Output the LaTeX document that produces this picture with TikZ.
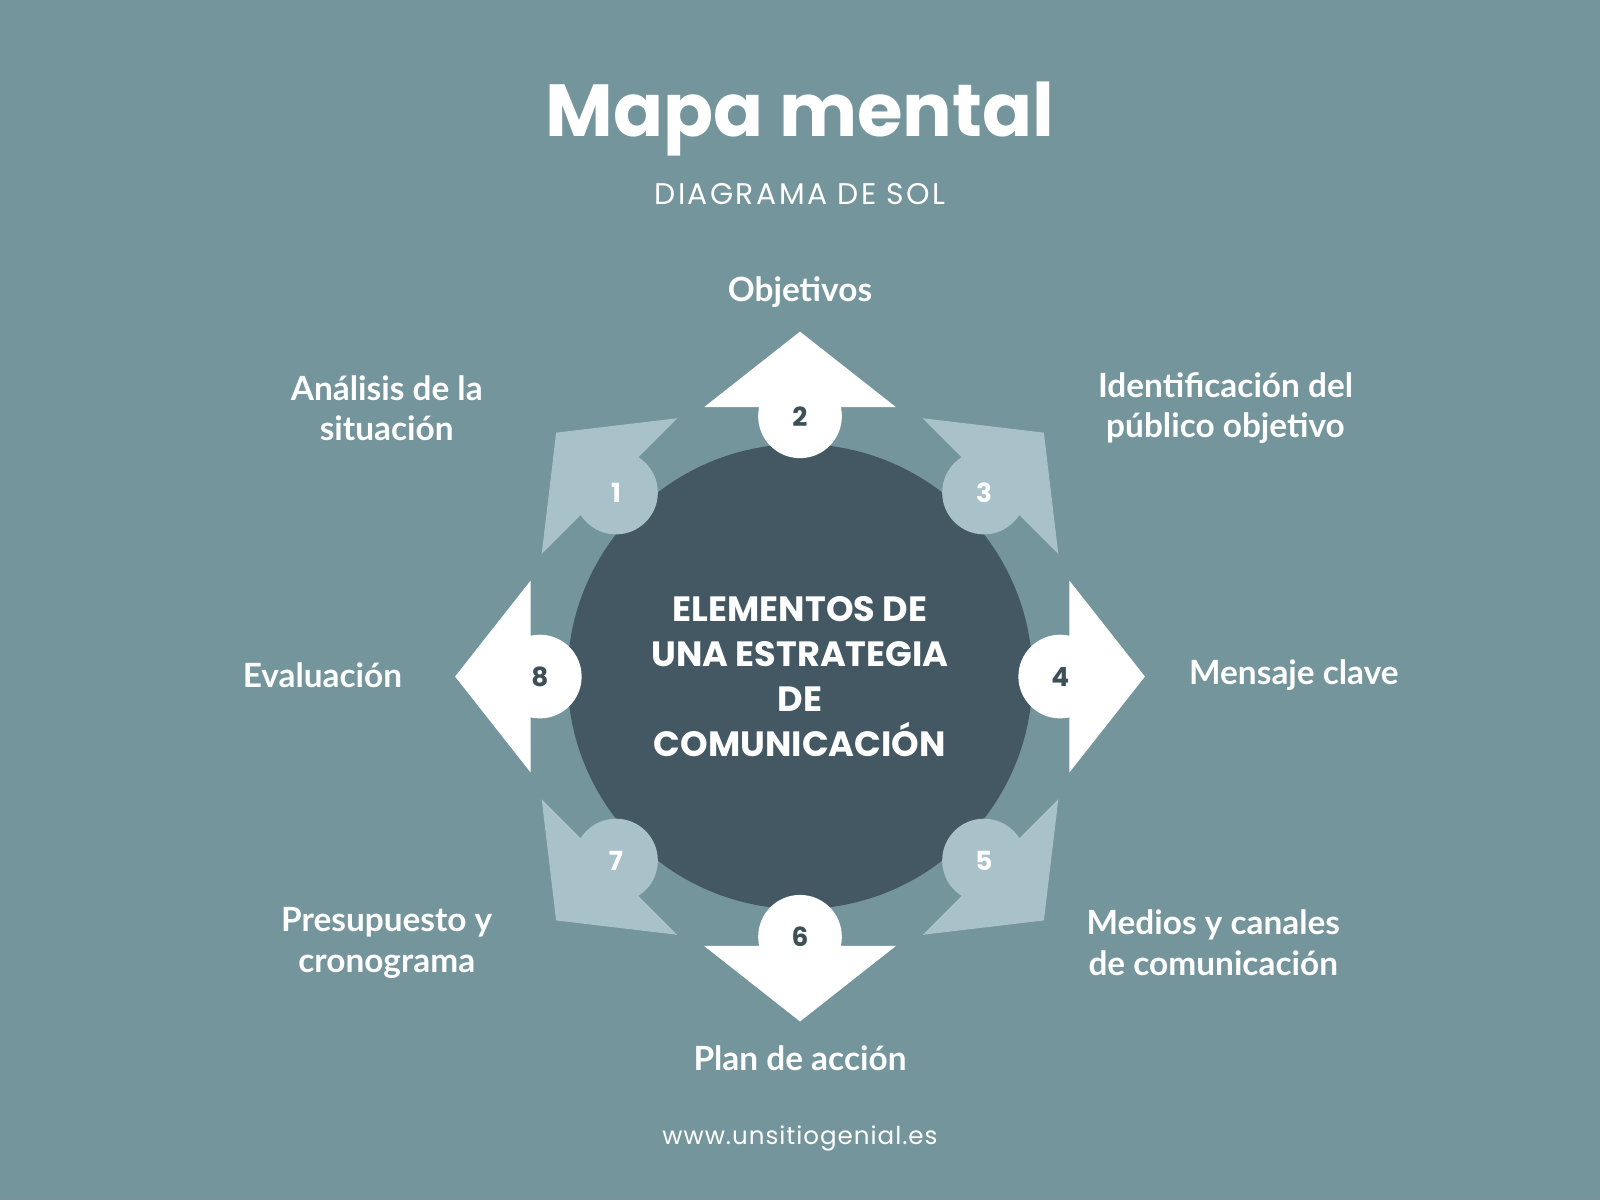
\documentclass[tikz,border=0pt]{standalone}
\usepackage{fontspec}
\newfontfamily\titlefont{Poppins}
\newfontfamily\lblfont{Lato}
\definecolor{bgc}{HTML}{74959B}
\definecolor{darkc}{HTML}{435862}
\definecolor{lightc}{HTML}{A9C1C8}
\definecolor{numc}{HTML}{3D4F57}
\begin{document}
\begin{tikzpicture}[x=0.010204cm, y=0.010204cm,
  lbl/.style={text=white, font=\lblfont\bfseries\fontsize{9.5}{11.5}\selectfont, align=center},
  num/.style={circle, inner sep=0pt, minimum size=0.837cm, font=\titlefont\bfseries\fontsize{7.5}{9}\selectfont}]
	 \fill[bgc] (0, 0) rectangle (1568, 1176);
	 
	 \node[text=white, font=\titlefont\bfseries\fontsize{21}{25}\selectfont] (title) at (784, 1059) {Mapa mental};
	 \node[text=white, font=\titlefont\fontsize{8.5}{10}\selectfont] (sub) at (784, 986) {\addfontfeature{LetterSpace=8}DIAGRAMA DE SOL};
	 
	 \node[circle, fill=darkc, minimum size=4.653cm, inner sep=0pt] (c) at (784, 513) {};
	 
	 \foreach \n/\a/\f/\t in {1/135/lightc/white, 2/90/white/numc, 3/45/lightc/white, 4/0/white/numc, 5/-45/lightc/white, 6/-90/white/numc, 7/-135/lightc/white, 8/180/white/numc}
	 {
	   \fill[\f, shift={(784, 513)}, rotate=\a] (264, 94) -- (338, 0) -- (264, -94) -- cycle;
	   \node[num, fill=\f, text=\t] (n\n) at ([shift={(784, 513)}]\a:255) {\n};
	 }
	 
	 \node[text=white, font=\titlefont\bfseries\fontsize{10}{12.8}\selectfont, align=center] (ctr) at (c) {ELEMENTOS DE\\UNA ESTRATEGIA\\DE\\COMUNICACIÓN};
	 
	 \node[lbl] (objetivos) at (784, 890) {Objetivos};
	 \node[lbl] (analisis) at (379, 776) {Análisis de la\\situación};
	 \node[lbl] (publico) at (1201, 776) {Identificación del\\público objetivo};
	 \node[lbl] (evaluacion) at (316, 514) {Evaluación};
	 \node[lbl] (mensaje) at (1268, 514) {Mensaje clave};
	 \node[lbl] (presupuesto) at (379, 252) {Presupuesto y\\cronograma};
	 \node[lbl] (medios) at (1189, 252) {Medios y canales\\de comunicación};
	 \node[lbl] (plan) at (784, 139) {Plan de acción};
	 
	 \node[text=white, font=\titlefont\fontsize{7}{9}\selectfont] (url) at (784, 60) {\addfontfeature{LetterSpace=4}www.unsitiogenial.es};
\end{tikzpicture}
\end{document}
